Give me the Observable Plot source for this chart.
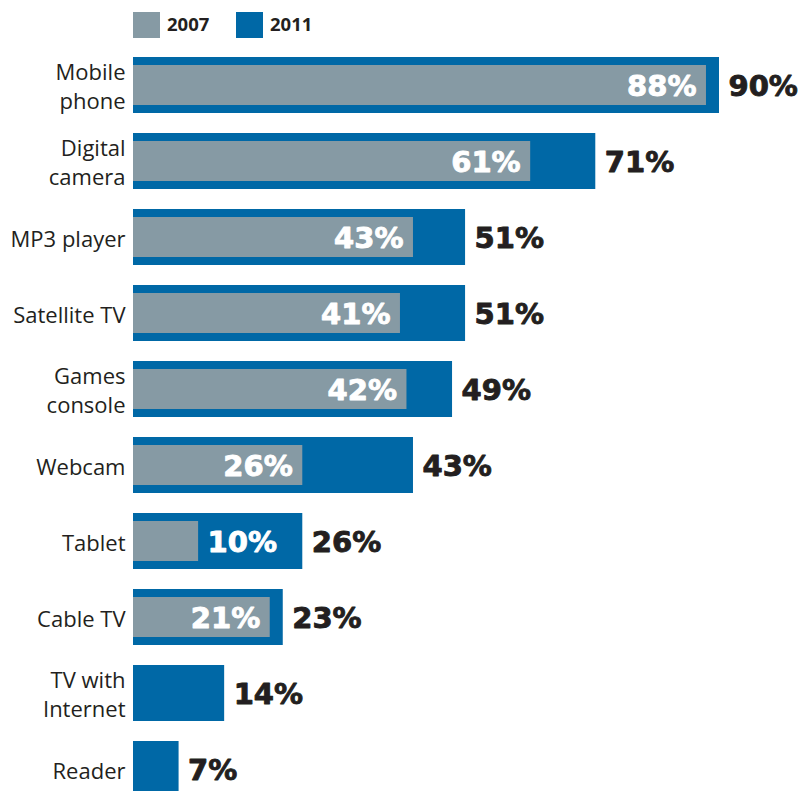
<!DOCTYPE html>
<html>
<head>
<meta charset="utf-8">
<script src="https://cdn.jsdelivr.net/npm/d3@7"></script>
<script src="https://cdn.jsdelivr.net/npm/@observablehq/plot@0.6"></script>
<style>
  html, body { margin: 0; padding: 0; background: #fff; overflow: hidden; }
  #legend { position: relative; height: 47px; font-family: "Open Sans", sans-serif; font-weight: 700; font-size: 18.5px; color: #231f20; }
  .sw { position: absolute; top: 12px; width: 27px; height: 26px; }
  .lt { position: absolute; top: 11px; line-height: 26px; }
</style>
</head>
<body>
<div id="legend"></div>
<div id="chart"></div>
<script>
const categories = ["Mobile\nphone", "Digital\ncamera", "MP3 player", "Satellite TV", "Games\nconsole", "Webcam", "Tablet", "Cable TV", "TV with\nInternet", "Reader"];
const values2011 = [90, 71, 51, 51, 49, 43, 26, 23, 14, 7];
const values2007 = [88, 61, 43, 41, 42, 26, 10, 21, null, null];
const seriesNames = ["2007", "2011"];
const colors = {"2007": "#869aa4", "2011": "#0068a6"};

// legend (HTML, above the SVG)
const legend = document.getElementById("legend");
const legendX = [133, 236];
seriesNames.forEach((s, i) => {
  const sw = document.createElement("div");
  sw.className = "sw";
  sw.style.left = legendX[i] + "px";
  sw.style.background = colors[s];
  legend.appendChild(sw);
  const t = document.createElement("div");
  t.className = "lt";
  t.style.left = (legendX[i] + 34) + "px";
  t.textContent = s;
  legend.appendChild(t);
});

const rows = categories.map((c, i) => ({cat: c, v2011: values2011[i], v2007: values2007[i]}));
const rows07 = rows.filter(d => d.v2007 != null);
const insideLabel = rows07.filter(d => d.v2007 >= 15);
const outsideLabel = rows07.filter(d => d.v2007 < 15);

const valueFont = {fontFamily: "DejaVu Sans, sans-serif", fontWeight: 700, fontSize: 29, strokeWidth: 0.9};

const chart = Plot.plot({
  width: 798,
  height: 760,
  marginTop: 0,
  marginBottom: 0,
  marginLeft: 133,
  marginRight: 0,
  x: {domain: [0, 90], range: [133, 719], axis: null},
  y: {domain: categories, range: [0, 760], paddingInner: 20 / 76, paddingOuter: 10 / 76, axis: null},
  marks: [
    Plot.barX(rows, {y: "cat", x: "v2011", fill: colors["2011"]}),
    Plot.barX(rows07, {y: "cat", x: "v2007", fill: colors["2007"], insetTop: 8, insetBottom: 8}),
    Plot.text(rows, {y: "cat", frameAnchor: "left", text: d => d.cat, textAnchor: "end", dx: -8,
      fontFamily: "Open Sans, sans-serif", fontSize: 22, fill: "#231f20", lineHeight: 1.28}),
    Plot.text(rows, {y: "cat", x: "v2011", text: d => d.v2011 + "%", textAnchor: "start", dx: 9, dy: 1,
      ...valueFont, fill: "#231f20", stroke: "#231f20"}),
    Plot.text(insideLabel, {y: "cat", x: "v2007", text: d => d.v2007 + "%", textAnchor: "end", dx: -10, dy: 1,
      ...valueFont, fill: "#fff", stroke: "#fff"}),
    Plot.text(outsideLabel, {y: "cat", x: "v2007", text: d => d.v2007 + "%", textAnchor: "start", dx: 9, dy: 1,
      ...valueFont, fill: "#fff", stroke: "#fff"})
  ]
});
document.getElementById("chart").appendChild(chart);
</script>
</body>
</html>
